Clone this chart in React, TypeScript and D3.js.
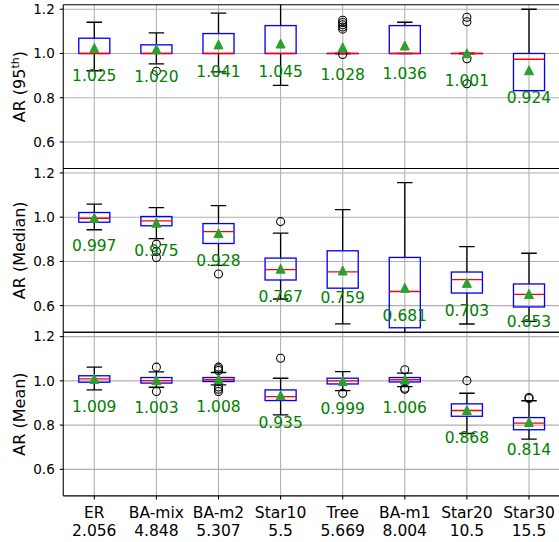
import React from 'react';
import * as d3 from 'd3';

const categories = ['ER', 'BA-mix', 'BA-m2', 'Star10', 'Tree', 'BA-m1', 'Star20', 'Star30'];
const densities = ['2.056', '4.848', '5.307', '5.5', '5.669', '8.004', '10.5', '15.5'];
const yTicks = [0.6, 0.8, 1.0, 1.2];

// box stats: [whiskerLow, q1, median, q3, whiskerHigh]
const p95Box = [
  [0.922, 1.0, 1.0, 1.069, 1.141],
  [0.953, 1.0, 1.0, 1.039, 1.093],
  [0.917, 1.0, 1.0, 1.09, 1.182],
  [0.856, 1.0, 1.0, 1.126, 1.25],
  [1.0, 1.0, 1.0, 1.0, 1.0],
  [1.0, 1.0, 1.0, 1.126, 1.141],
  [1.0, 1.0, 1.0, 1.0, 1.0],
  [0.832, 0.832, 0.974, 1.0, 1.2],
];
const p95Mean = [1.025, 1.020, 1.041, 1.045, 1.028, 1.036, 1.001, 0.924];
const p95Fliers = [
  [],
  [0.92],
  [],
  [],
  [1.11, 1.12, 1.13, 1.14, 1.15, 0.995],
  [],
  [1.164, 1.143, 0.976, 0.863],
  [],
];

const medBox = [
  [0.943, 0.977, 0.995, 1.021, 1.059],
  [0.903, 0.961, 0.983, 1.003, 1.043],
  [0.782, 0.881, 0.935, 0.971, 1.052],
  [0.63, 0.716, 0.763, 0.815, 0.928],
  [0.518, 0.679, 0.753, 0.848, 1.034],
  [0.44, 0.5, 0.664, 0.818, 1.156],
  [0.517, 0.657, 0.718, 0.752, 0.867],
  [0.529, 0.594, 0.651, 0.698, 0.837],
];
const medMean = [0.997, 0.975, 0.928, 0.767, 0.759, 0.681, 0.703, 0.653];
const medFliers = [
  [],
  [0.878, 0.845, 0.818],
  [0.743],
  [0.98],
  [],
  [],
  [],
  [],
];

const meanBox = [
  [0.959, 0.994, 1.009, 1.023, 1.062],
  [0.971, 0.99, 1.001, 1.015, 1.041],
  [0.982, 0.997, 1.005, 1.015, 1.038],
  [0.846, 0.911, 0.929, 0.959, 1.012],
  [0.956, 0.986, 1.0, 1.012, 1.042],
  [0.974, 0.995, 1.006, 1.015, 1.035],
  [0.762, 0.84, 0.866, 0.896, 0.944],
  [0.737, 0.779, 0.809, 0.834, 0.91],
];
const meanMean = [1.009, 1.003, 1.008, 0.935, 0.999, 1.006, 0.868, 0.814];
const meanFliers = [
  [],
  [1.062, 0.952],
  [1.062, 1.055, 1.047, 0.972, 0.962, 0.952],
  [1.102],
  [0.944],
  [1.05, 0.967, 0.962],
  [1.001],
  [0.925, 0.92],
];

const panels = [
  { key: 'p95', label: 'AR (95', sup: 'th', box: p95Box, mean: p95Mean, fliers: p95Fliers },
  { key: 'med', label: 'AR (Median)', sup: '', box: medBox, mean: medMean, fliers: medFliers },
  { key: 'mean', label: 'AR (Mean)', sup: '', box: meanBox, mean: meanMean, fliers: meanFliers },
];

const W = 559;
const H = 542;
const left = 63.25;
const right = 560.05;
const panelTops = [4.8, 168.5, 332.2];
const panelH = 163.7;
const font = 'DejaVu Sans, sans-serif';

export default function App() {
  const x = d3.scaleLinear().domain([0.5, 8.5]).range([left, right]);
  const unit = x(1) - x(0);
  const boxHalf = unit * 0.25;
  const capHalf = unit * 0.125;

  return (
    <svg width={W} height={H} style={{ position: 'absolute', left: 0, top: 0 }} fontFamily={font}>
      <rect x={0} y={0} width={W} height={H} fill="#fff" />
      <defs>
        {panels.map((p, pi) => (
          <clipPath id={`clip-${p.key}`} key={p.key}>
            <rect x={left} y={panelTops[pi]} width={right - left} height={panelH} />
          </clipPath>
        ))}
      </defs>
      {panels.map((p, pi) => {
        const top = panelTops[pi];
        const bottom = top + panelH;
        const y = d3.scaleLinear().domain([0.48, 1.22]).range([bottom, top]);
        const mid = (top + bottom) / 2;
        return (
          <g key={p.key}>
            <g clipPath={`url(#clip-${p.key})`}>
              {/* grid */}
              {yTicks.map((t) => (
                <line key={`gy${t}`} x1={left} x2={right} y1={y(t)} y2={y(t)} stroke="#b0b0b0" strokeWidth={1.07} />
              ))}
              {categories.map((c, i) => (
                <line key={`gx${c}`} x1={x(i + 1)} x2={x(i + 1)} y1={top} y2={bottom} stroke="#b0b0b0" strokeWidth={1.07} />
              ))}
              {p.box.map((b, i) => {
                const cx = x(i + 1);
                const [lo, q1, med, q3, hi] = b;
                return (
                  <g key={`b${i}`}>
                    <line x1={cx} x2={cx} y1={y(q1)} y2={y(lo)} stroke="#000" strokeWidth={1.33} />
                    <line x1={cx} x2={cx} y1={y(q3)} y2={y(hi)} stroke="#000" strokeWidth={1.33} />
                    <line x1={cx - capHalf} x2={cx + capHalf} y1={y(lo)} y2={y(lo)} stroke="#000" strokeWidth={1.33} />
                    <line x1={cx - capHalf} x2={cx + capHalf} y1={y(hi)} y2={y(hi)} stroke="#000" strokeWidth={1.33} />
                    <rect x={cx - boxHalf} y={y(q3)} width={boxHalf * 2} height={Math.max(0.01, y(q1) - y(q3))} fill="none" stroke="#0000ff" strokeWidth={1.33} />
                    <line x1={cx - boxHalf} x2={cx + boxHalf} y1={y(med)} y2={y(med)} stroke="#ff0000" strokeWidth={1.33} />
                    {p.fliers[i].map((f, fi) => (
                      <circle key={fi} cx={cx} cy={y(f)} r={4} fill="none" stroke="#000" strokeWidth={1.07} />
                    ))}
                    <path
                      d={`M${cx},${y(p.mean[i]) - 4.5} L${cx + 4.5},${y(p.mean[i]) + 4.5} L${cx - 4.5},${y(p.mean[i]) + 4.5} Z`}
                      fill="#2ca02c"
                      stroke="#2ca02c"
                      strokeWidth={1}
                    />
                  </g>
                );
              })}
            </g>
            {/* value labels */}
            {p.mean.map((m, i) => (
              <text key={`t${i}`} x={x(i + 1)} y={y(m) + 33} textAnchor="middle" fontSize={15.5} fill="#008000">
                {m.toFixed(3)}
              </text>
            ))}
            {/* y ticks */}
            {yTicks.map((t) => (
              <g key={`yt${t}`}>
                <line x1={left - 3.5} x2={left} y1={y(t)} y2={y(t)} stroke="#000" strokeWidth={1.07} />
                <text x={left - 8.5} y={y(t)} dy="0.36em" textAnchor="end" fontSize={13.5} fill="#000">
                  {t.toFixed(1)}
                </text>
              </g>
            ))}
            {/* spines */}
            <line x1={left} x2={left} y1={top} y2={bottom} stroke="#000" strokeWidth={1.07} />
            <line x1={left} x2={right} y1={top} y2={top} stroke="#000" strokeWidth={1.07} />
            <line x1={left} x2={right} y1={bottom} y2={bottom} stroke="#000" strokeWidth={1.07} />
            <line x1={right} x2={right} y1={top} y2={bottom} stroke="#000" strokeWidth={1.07} />
            {/* y label */}
            <text transform={`translate(25,${mid}) rotate(-90)`} textAnchor="middle" fontSize={16} fill="#000">
              {p.label}
              {p.sup ? (
                <>
                  <tspan fontSize={11} dy={-6}>{p.sup}</tspan>
                  <tspan dy={6}>)</tspan>
                </>
              ) : null}
            </text>
          </g>
        );
      })}
      {/* x ticks & labels */}
      {categories.map((c, i) => {
        const bottom = panelTops[2] + panelH;
        const cx = x(i + 1);
        return (
          <g key={`xt${c}`}>
            <line x1={cx} x2={cx} y1={bottom} y2={bottom + 3.5} stroke="#000" strokeWidth={1.07} />
            <text x={cx} y={517.5} textAnchor="middle" fontSize={15.5} fill="#000">{c}</text>
            <text x={cx} y={536} textAnchor="middle" fontSize={15.5} fill="#000">{densities[i]}</text>
          </g>
        );
      })}
    </svg>
  );
}
